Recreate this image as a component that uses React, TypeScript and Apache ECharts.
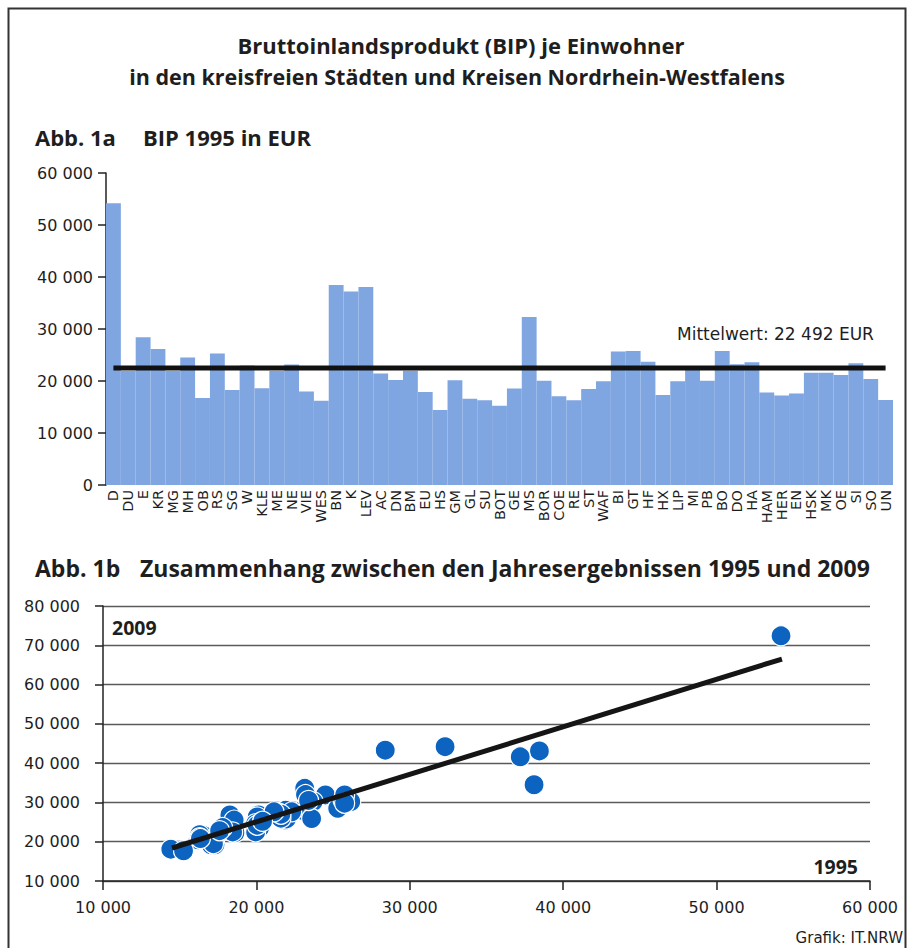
import React, { useEffect, useRef } from "react";
import * as echarts from "echarts";

const categories = [
  "D", "DU", "E", "KR", "MG", "MH", "OB", "RS", "SG", "W", "KLE", "ME", "NE", "VIE", "WES",
  "BN", "K", "LEV", "AC", "DN", "BM", "EU", "HS", "GM", "GL", "SU",
  "BOT", "GE", "MS", "BOR", "COE", "RE", "ST", "WAF",
  "BI", "GT", "HF", "HX", "LIP", "MI", "PB",
  "BO", "DO", "HA", "HAM", "HER", "EN", "HSK", "MK", "OE", "SI", "SO", "UN",
];

const bip1995 = [
  54200, 21900, 28400, 26150, 21900, 24500, 16730, 25300, 18270, 23000, 18600, 21900, 23150, 18000, 16200,
  38450, 37200, 38100, 21450, 20200, 21950, 17900, 14420, 20150, 16600, 16300,
  15250, 18550, 32300, 20050, 17050, 16300, 18450, 19950,
  25650, 25750, 23700, 17300, 19950, 22300, 20050,
  25750, 23200, 23600, 17800, 17200, 17600, 21600, 21600, 21150, 23400, 20400, 16350,
];

const bip2009 = [
  72400, 26500, 43300, 30200, 25500, 31900, 20900, 28500, 26800, 28000, 22300, 28000, 33600, 23500, 20500,
  43100, 41600, 34500, 27300, 23500, 25800, 23000, 18100, 26800, 21500, 21800,
  17700, 25500, 44200, 26300, 19200, 21000, 22500, 24600,
  30600, 31900, 30200, 19200, 22500, 27600, 24200,
  29800, 32000, 25900, 23600, 19500, 22800, 26000, 27000, 27600, 30500, 25200, 20800,
];

const MEAN_1995 = 22492;
const trendLine = [
  [14500, 18400],
  [54260, 66500],
];

const barTicks = [0, 10000, 20000, 30000, 40000, 50000, 60000];
const scatterXTicks = [10000, 20000, 30000, 40000, 50000, 60000];
const scatterYTicks = [10000, 20000, 30000, 40000, 50000, 60000, 70000, 80000];

const TITLE_FONT = "Open Sans";
const FONT = "DejaVu Sans";
const fmt = (v: number) => String(v).replace(/\B(?=(\d{3})+(?!\d))/g, " ");

export default function App() {
  const ref = useRef<HTMLDivElement>(null);

  useEffect(() => {
    if (!ref.current) return;
    const chart = echarts.init(ref.current, null, { renderer: "svg" });
    const meanData = categories.map(() => MEAN_1995);
    const scatterData = categories.map((c, i) => ({ name: c, value: [bip1995[i], bip2009[i]] }));

    const txt = (
      x: number,
      y: number,
      text: string,
      size: number,
      bold: boolean,
      align = "left",
      family = TITLE_FONT
    ) => ({
      type: "text",
      x,
      y,
      silent: true,
      style: {
        text,
        fontFamily: family,
        fontWeight: bold ? "bold" : "normal",
        fontSize: size,
        fill: "#1e1e1e",
        align,
        verticalAlign: "middle",
      },
    });

    const option: any = {
      animation: false,
      backgroundColor: "#ffffff",
      textStyle: { fontFamily: FONT },
      grid: [
        { left: 106, top: 173, width: 787, height: 312 },
        { left: 103, top: 606, width: 767, height: 275 },
      ],
      xAxis: [
        {
          type: "category",
          gridIndex: 0,
          data: categories,
          axisLine: { show: false },
          axisTick: { show: false },
          axisLabel: {
            interval: 0,
            rotate: 90,
            fontSize: 14.5,
            color: "#1e1e1e",
            margin: 5,
            fontFamily: FONT,
          },
        },
        {
          type: "value",
          gridIndex: 1,
          min: scatterXTicks[0],
          max: scatterXTicks[scatterXTicks.length - 1],
          interval: 10000,
          axisLine: { show: true, lineStyle: { color: "#222", width: 1.5 } },
          axisTick: { show: true, length: 9, lineStyle: { color: "#222", width: 1.5 } },
          splitLine: { show: false },
          axisLabel: { fontSize: 16, color: "#1e1e1e", margin: 18, formatter: fmt, fontFamily: FONT },
        },
      ],
      yAxis: [
        {
          type: "value",
          gridIndex: 0,
          min: barTicks[0],
          max: barTicks[barTicks.length - 1],
          interval: 10000,
          axisLine: { show: true, lineStyle: { color: "#222", width: 1.5 } },
          axisTick: { show: true, length: 8, lineStyle: { color: "#222", width: 1.5 } },
          splitLine: { show: false },
          axisLabel: { fontSize: 16, color: "#1e1e1e", margin: 13, formatter: fmt, fontFamily: FONT },
        },
        {
          type: "value",
          gridIndex: 1,
          min: scatterYTicks[0],
          max: scatterYTicks[scatterYTicks.length - 1],
          interval: 10000,
          axisLine: { show: true, lineStyle: { color: "#222", width: 1.5 } },
          axisTick: { show: true, length: 8, lineStyle: { color: "#222", width: 1.5 } },
          splitLine: { show: true, lineStyle: { color: "#5a5a5a", width: 1.3 } },
          axisLabel: { fontSize: 16, color: "#1e1e1e", margin: 23, formatter: fmt, fontFamily: FONT },
        },
      ],
      series: [
        {
          type: "bar",
          xAxisIndex: 0,
          yAxisIndex: 0,
          data: bip1995,
          barCategoryGap: "0%",
          itemStyle: { color: "#7fa6e1" },
          silent: true,
        },
        {
          type: "line",
          xAxisIndex: 0,
          yAxisIndex: 0,
          data: meanData,
          symbol: "none",
          lineStyle: { color: "#111", width: 5 },
          z: 5,
          silent: true,
        },
        {
          type: "scatter",
          xAxisIndex: 1,
          yAxisIndex: 1,
          data: scatterData,
          symbolSize: 20,
          itemStyle: { color: "#0c63c0", borderColor: "#ffffff", borderWidth: 1.2, opacity: 1 },
          z: 3,
          silent: true,
        },
        {
          type: "line",
          xAxisIndex: 1,
          yAxisIndex: 1,
          data: trendLine,
          symbol: "none",
          lineStyle: { color: "#151515", width: 5 },
          z: 5,
          silent: true,
        },
      ],
      graphic: [
        {
          type: "rect",
          shape: { x: 8.5, y: 8.5, width: 897, height: 960 },
          style: { fill: "none", stroke: "#333", lineWidth: 2 },
          silent: true,
        },
        txt(461, 45, "Bruttoinlandsprodukt (BIP) je Einwohner", 22, true, "center"),
        txt(457, 76, "in den kreisfreien Städten und Kreisen Nordrhein-Westfalens", 21.5, true, "center"),
        txt(35, 137, "Abb. 1a", 22, true),
        txt(143, 137, "BIP 1995 in EUR", 22, true),
        txt(677, 334, "Mittelwert: 22 492 EUR", 17, false, "left", FONT),
        txt(35, 568, "Abb. 1b", 23, true),
        txt(140, 568, "Zusammenhang zwischen den Jahresergebnissen 1995 und 2009", 23, true),
        txt(112, 627, "2009", 19.5, true),
        txt(858, 866, "1995", 19.5, true, "right"),
        txt(903, 938, "Grafik: IT.NRW", 15, false, "right", FONT),
      ],
    };

    chart.setOption(option);
    return () => chart.dispose();
  }, []);

  return (
    <div
      ref={ref}
      style={{ position: "absolute", left: 0, top: 0, width: 912, height: 948 }}
    />
  );
}
